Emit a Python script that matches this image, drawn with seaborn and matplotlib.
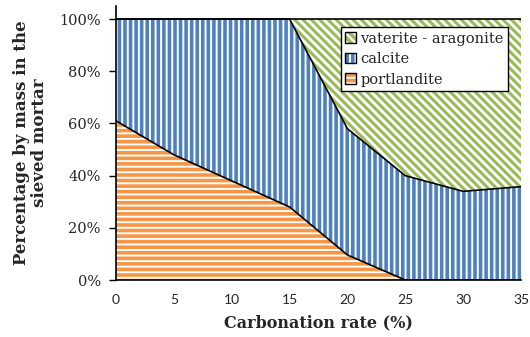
import matplotlib
matplotlib.use("Agg")
import matplotlib.pyplot as plt
import matplotlib.patches as mpatches
from matplotlib.legend_handler import HandlerTuple
from matplotlib.ticker import FuncFormatter
import numpy as np
import pandas as pd
import seaborn as sns

carbonation = [0, 5, 10, 15, 20, 25, 30, 35]
portlandite = [61, 48, 38, 28, 9.6, 0, 0, 0]
calcite = [39, 52, 62, 72, 48.4, 40, 34, 35.8]
vaterite = [0, 0, 0, 0, 42, 60, 66, 64.2]
labels = ["portlandite", "calcite", "vaterite - aragonite"]
colors = ["#F79646", "#4F81BD", "#9BBB59"]
hatches = ["---", "|||", "\\\\\\\\"]

sns.set_theme(style="white")
plt.rcParams["font.family"] = ["DejaVu Serif"]
plt.rcParams["hatch.linewidth"] = 2.6

fig = plt.figure(figsize=(5.30, 3.37), dpi=100)
ax = fig.add_axes([0.219, 0.169, 0.764, 0.813])

x = np.array(carbonation, dtype=float)
series = [np.array(portlandite), np.array(calcite), np.array(vaterite)]
bottom = np.zeros_like(x)
tops = []
for vals, col, h in zip(series, colors, hatches):
    top = bottom + vals
    coll = ax.fill_between(x, bottom, top, facecolor="white", edgecolor=col,
                           hatch=h, linewidth=0)
    if h.startswith("\\"):
        try:
            coll.set_hatch_linewidth(2.2)
        except AttributeError:
            pass
    tops.append(top)
    bottom = top

df = pd.DataFrame({"x": np.tile(x, 3),
                   "y": np.concatenate(tops),
                   "s": np.repeat(labels, len(x))})
sns.lineplot(data=df, x="x", y="y", units="s", estimator=None,
             color="black", linewidth=1.2, ax=ax, legend=False)

ax.set_xlim(0, 35)
ax.set_ylim(0, 105)
ax.set_xticks(carbonation)
ax.set_yticks([0, 20, 40, 60, 80, 100])
ax.yaxis.set_major_formatter(FuncFormatter(lambda v, p: f"{int(v)}%"))
for t in ax.get_xticklabels():
    t.set_fontfamily("Lato")
    t.set_fontsize(10)
for t in ax.get_yticklabels():
    t.set_fontsize(10.5)
ax.tick_params(axis="y", which="major", length=5, width=1, color="black",
               left=True, pad=6)
ax.tick_params(axis="x", length=0, pad=10)

for s in ["top", "right"]:
    ax.spines[s].set_visible(False)
for s in ["left", "bottom"]:
    ax.spines[s].set_color("black")
    ax.spines[s].set_linewidth(1.2)

ax.set_xlabel("Carbonation rate (%)", fontsize=11.5, fontweight="bold", labelpad=6)
ax.set_ylabel("Percentage by mass in the\nsieved mortar", fontsize=12,
              fontweight="bold", labelpad=8, linespacing=1.05)

handles = []
for col, h in zip(colors, hatches):
    p1 = mpatches.Patch(facecolor="white", edgecolor=col, hatch=h, linewidth=0)
    p2 = mpatches.Patch(facecolor="none", edgecolor="black", linewidth=1)
    handles.append((p1, p2))
leg = ax.legend(handles[::-1], labels[::-1], loc="upper right",
                bbox_to_anchor=(0.968, 0.923), frameon=True, fancybox=False,
                edgecolor="black", framealpha=1, fontsize=10.5,
                handler_map={tuple: HandlerTuple(ndivide=1)},
                handlelength=0.75, handleheight=0.75, handletextpad=0.3,
                borderpad=0.3, labelspacing=0.45, borderaxespad=0)
leg.get_frame().set_linewidth(1)

fig.savefig("out.png", dpi=100)
